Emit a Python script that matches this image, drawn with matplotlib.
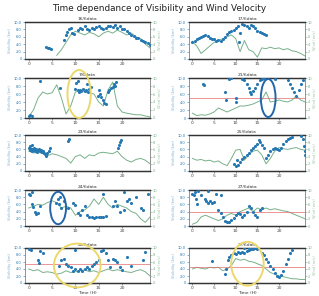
import matplotlib
matplotlib.use("Agg")
import matplotlib.pyplot as plt
from matplotlib.patches import Ellipse

nan = float("nan")

# hours of the day for the wind readings
hours = [0, 1, 2, 3, 4, 5, 6, 7, 8, 9, 10, 11, 12, 13, 14, 15, 16, 17, 18, 19,
         20, 21, 22, 23, 24, 25, 26]

titles = ["16/6data", "17/6data", "7/6data", "21/6data", "23/6data",
          "25/6data", "24/6data", "27/6data", "26/6data", "27/6data"]

# wind velocity, one value per hour
wind1 = [nan, nan, nan, nan, nan, nan, 1.0, 2.5, 4.5, 6.5, 7.5, 7.0, 6.5, 7.2, 6.8, 6.0,
         7.0, 7.5, 7.0, 7.8, 7.2, 6.5, 7.0, 6.0, 5.5, 4.0, 3.0]
wind2 = [4.8, 3.5, 1.5, 2.5, 3.5, 4.5, 5.0, 5.5, 6.0, 6.5, 5.5, 2.0, 5.0, 2.5, 2.0, 0.5,
         3.0, 2.8, 3.2, 2.8, 3.0, 2.5, 2.8, 2.2, 2.0, 1.5, 0.8]
wind3 = [0.3, 2.0, 5.0, 6.5, 6.0, 6.3, 8.3, 5.0, 1.0, 3.0, 6.5, 6.8, 6.5, 6.3, 6.0, 4.0,
         3.0, 7.0, 9.0, 3.0, 1.5, 1.2, 1.0, 0.8, 0.8, 0.5, 0.3]
wind4 = [1.2, 0.6, 0.8, 0.7, 1.0, 1.5, 2.5, 2.0, 1.5, 2.0, 2.5, 3.0, 3.0, 3.2, 3.5, 4.0,
         4.5, 6.5, 4.0, 4.2, 4.5, 4.2, 4.0, 4.5, 5.5, 4.5, 4.0]
wind5 = [5.5, 5.0, 5.2, 4.8, 4.2, 4.8, 4.5, 4.0, 3.5, 2.2, 4.0, 4.5, 3.5, 4.5, 4.2, 5.0,
         5.2, 5.0, 4.8, 5.5, 4.0, 3.0, 2.5, 3.2, 3.5, 3.0, 2.0]
wind6 = [3.5, 3.0, 3.2, 2.8, 3.0, 2.5, 2.8, 2.0, 1.5, 3.5, 5.8, 6.0, 3.0, 4.5, 5.5, 5.8,
         4.5, 2.0, 3.5, 5.5, 6.5, 6.2, 6.0, 6.3, 6.5, 6.0, 5.8]
wind7 = [5.0, 5.5, 6.0, 5.8, 6.5, 7.0, 6.5, 5.0, 5.5, 5.0, 3.0, 4.0, 4.5, 5.5, 7.5, 6.0,
         8.0, 6.0, 5.0, 6.0, 5.5, 5.0, 4.0, 3.5, 2.0, 1.0, 2.5]
wind8 = [0.5, 1.0, 2.5, 3.0, 2.5, 2.0, 1.5, 2.0, 3.0, 3.5, 3.0, 4.0, 4.5, 5.0, 4.0, 5.0,
         4.5, 5.0, 4.5, 4.8, 4.5, 4.2, 4.0, 3.5, 3.0, 2.5, 2.0]
wind9 = [4.0, 3.5, 3.8, 3.0, 3.2, 3.0, 2.5, 2.8, 3.5, 3.0, 3.2, 3.5, 3.8, 3.2, 3.5, 3.0,
         3.5, 4.0, 3.5, 3.8, 3.5, 3.2, 3.0, 3.5, 3.8, 3.2, 2.0]
wind10 = [4.0, 4.5, 4.2, 4.0, 4.5, 4.3, 4.5, 3.5, 4.0, 5.0, 7.0, 6.5, 6.8, 6.2, 6.0, 5.5,
          5.0, 4.0, 3.0, 2.5, 2.0, 1.8, 1.5, 1.2, 1.2, 1.0, 1.0]

# visibility readings as (hour, value)
vis1 = [(3.8, 3.3), (4.1, 3.1), (4.4, 3.0), (4.7, 2.8), (7.6, 5.2), (8.0, 6.4), (8.3, 7.2),
        (8.7, 8.0), (9.0, 8.5), (9.3, 7.0), (9.6, 6.8), (10.5, 7.8), (11, 8.4), (11.5, 8.1),
        (12, 8.8), (12.5, 8.2), (13, 7.9), (13.5, 8.3), (14, 8.0), (14.5, 8.6), (15, 8.9),
        (15.5, 8.3), (16, 8.0), (16.5, 8.5), (17, 8.8), (17.5, 9.0), (18, 8.6), (18.5, 9.1),
        (19, 8.4), (19.5, 8.8), (20, 8.2), (20.5, 8.0), (21, 7.6), (21.5, 7.0), (22, 6.6),
        (22.5, 6.2), (23, 5.8), (23.5, 5.6), (24, 5.2), (24.5, 5.0), (25, 4.6), (25.5, 4.2),
        (26, 3.8)]
vis2 = [(0, 4.5), (0.5, 5.0), (1, 5.5), (1.5, 5.8), (2, 6.0), (2.5, 6.3), (3, 6.5), (3.5, 6.2),
        (4, 5.8), (4.5, 5.5), (5, 5.3), (5.5, 5.0), (6, 5.2), (6.5, 5.0), (7, 5.4), (7.5, 6.0),
        (8, 6.8), (8.5, 7.2), (9, 7.5), (9.5, 7.8), (10, 8.3), (10.5, 8.8), (11, 7.0),
        (11.5, 9.5), (12, 9.2), (12.5, 8.8), (13, 8.5), (13.5, 9.3), (14, 9.0), (14.5, 8.5),
        (15, 7.5), (15.5, 7.2), (16, 7.0), (16.5, 6.8), (17, 6.5), (10.8, 4.5)]
vis3 = [(0, 0.5), (0.3, 0.8), (0.6, 0.4), (2.5, 9.2), (6.8, 7.5), (10, 7.2), (10.2, 8.8),
        (10.5, 7.0), (10.8, 6.5), (11, 7.0), (11.3, 6.8), (11.6, 7.2), (12, 6.8), (12.3, 7.0),
        (12.6, 6.6), (13, 7.2), (13.3, 7.8), (10.5, 9.2), (12.5, 8.4), (15, 7.0), (15.3, 6.0),
        (15.6, 5.2), (15.9, 4.5), (16.2, 3.8), (16.5, 3.5), (17, 6.5), (17.3, 7.0), (17.6, 7.5),
        (18, 7.8), (18.3, 8.5), (18.6, 8.0), (18.8, 9.0), (14.8, 5.5)]
vis4 = [(2.5, 8.5), (2.6, 8.2), (7.5, 6.5), (7.8, 4.5), (10, 5.0), (10, 4.0), (11.5, 9.8),
        (12, 9.5), (12.5, 8.5), (13, 7.5), (13.3, 6.5), (13.6, 6.0), (14, 6.8), (14.5, 7.5),
        (15, 8.5), (15.5, 9.5), (16, 9.8), (16.5, 10.0), (19, 9.7), (22, 9.6), (22.5, 8.5),
        (23, 7.5), (23.5, 6.5), (24, 5.6), (24.5, 7.0), (25, 8.5), (25.5, 9.5), (8.5, 9.8),
        (9, 9.9)]
vis5 = [(0, 6.5), (0.2, 5.8), (0.4, 6.2), (0.6, 5.5), (0.8, 6.0), (1, 5.8), (1.2, 6.3),
        (1.4, 5.6), (1.6, 6.0), (1.8, 5.4), (2, 5.8), (2.2, 6.1), (2.4, 5.5), (2.6, 5.9),
        (2.8, 5.2), (3, 5.6), (3.2, 5.0), (3.4, 4.6), (3.6, 4.2), (3.8, 4.5), (4.0, 5.0),
        (4.3, 5.6), (4.6, 6.3), (0.3, 7.0), (0.7, 7.2), (8.5, 8.3), (8.6, 8.8), (19.2, 6.5),
        (19.4, 7.2), (19.6, 8.0), (19.8, 8.6)]
vis6 = [(9.5, 2.0), (10, 1.5), (10.5, 1.8), (11, 2.5), (11.5, 3.2), (12, 3.8), (12.5, 4.5),
        (13, 5.0), (13.5, 5.8), (14, 6.5), (14.5, 7.0), (15, 7.5), (15.3, 8.5), (15.6, 8.0),
        (16, 7.2), (16.5, 6.5), (17, 3.5), (17.5, 4.5), (18, 5.5), (18.5, 6.0), (19, 6.5),
        (19.5, 6.2), (20, 5.8), (20.5, 6.5), (21, 7.5), (21.5, 8.2), (22, 8.8), (22.5, 9.2),
        (23, 9.5), (25, 9.8), (25.5, 9.0), (25.8, 7.0), (26, 5.5), (26, 4.5), (10.2, 3.0)]
vis7 = [(0, 9.0), (0.3, 8.5), (0.6, 6.0), (1, 5.2), (1.3, 4.0), (1.6, 3.2), (2, 3.5),
        (2.5, 5.5), (5.8, 6.5), (6.2, 7.5), (6.5, 6.0), (6.8, 8.0), (7, 5.0), (7.5, 7.0),
        (8.5, 5.0), (9.5, 6.5), (10, 5.8), (10.5, 3.5), (11, 3.0), (11.5, 4.5), (12, 5.5),
        (12.5, 3.0), (13, 2.5), (13.5, 2.5), (14, 2.3), (14.5, 2.5), (15, 2.4), (15.5, 2.6),
        (16, 2.5), (16.5, 2.8), (16, 9.0), (18, 5.5), (18.5, 7.0), (19, 5.5), (19.5, 4.0),
        (20.5, 4.5), (21, 7.0), (21.5, 7.5), (22, 6.5), (23, 8.0), (24, 5.0), (24.5, 4.5),
        (25.5, 9.0), (20.5, 9.5), (0.8, 9.5)]
vis8 = [(0, 9.0), (0.3, 8.5), (0.5, 9.5), (0.8, 7.5), (1, 6.0), (1.2, 9.8), (2, 8.5),
        (3, 7.5), (3.2, 7.0), (3.5, 6.5), (4, 7.0), (4.5, 6.5), (5, 6.8), (6, 4.5), (6.5, 3.5),
        (7, 2.5), (7.5, 1.5), (8, 1.0), (8.5, 1.2), (9, 1.8), (9.5, 2.2), (10, 3.0), (10.5, 3.5),
        (11, 3.2), (11.5, 2.5), (12, 3.0), (12.5, 4.0), (13, 5.5), (13.5, 5.0), (14, 4.0),
        (14.5, 3.0), (15, 2.5), (15.5, 4.5), (16, 5.0), (3.5, 9.8), (5.5, 9.0), (6.5, 8.5)]
vis9 = [(0, 9.8), (0.5, 9.5), (2, 6.5), (2.3, 5.8), (2.5, 9.2), (3, 8.5), (6.5, 5.0),
        (7, 6.5), (7.5, 7.0), (8, 5.5), (8.5, 5.0), (9, 4.5), (9.5, 3.5), (10, 4.0), (10.5, 3.5),
        (11, 4.0), (11.5, 3.5), (12, 4.0), (12.5, 4.5), (13, 4.0), (13.5, 4.8), (14, 5.5),
        (14.5, 6.0), (15, 6.5), (15.5, 9.2), (16, 9.5), (16.5, 8.5), (17, 6.5), (17.5, 4.5),
        (18, 7.0), (18.5, 6.5), (19, 6.0), (19.5, 4.5), (20, 3.8), (21, 7.5), (22, 5.0),
        (24.5, 6.5), (25, 9.0), (10, 9.5)]
vis10 = [(4.5, 6.2), (7.5, 2.5), (7.8, 4.0), (8.2, 6.5), (8.5, 7.5), (9, 8.0), (9.5, 8.5),
         (10, 8.2), (10.5, 8.8), (11, 8.5), (11.5, 9.0), (12, 8.6), (12.5, 9.2), (13, 9.5),
         (13.5, 9.8), (14, 9.6), (14.5, 9.9), (15, 9.7), (16, 8.5), (16.5, 8.0), (17, 7.0),
         (17.5, 6.0), (18, 5.0), (18.5, 4.0), (19, 3.0), (19.5, 2.0), (20, 1.8), (20.5, 2.2),
         (21, 3.5), (21.5, 5.5), (22, 7.0), (22.5, 8.5), (23, 9.5), (13, 10.0), (12, 10.0)]

# threshold line (None where absent)
thresholds = [None, None, None, 5.1, None, None, None, 3.8, 5.3, 4.7]

# hand-drawn highlight rings: panel, centre x, centre y, width, height, colour
rings = [(2, 10.8, 6.0, 5.0, 12.0, "#ecd86a"),
         (3, 17.5, 5.0, 3.4, 9.5, "#2466a8"),
         (6, 6.3, 5.0, 3.4, 9.0, "#2466a8"),
         (8, 10.4, 5.0, 10.0, 12.5, "#ecd86a"),
         (9, 12.7, 5.5, 7.5, 12.5, "#ecd86a")]

winds = [wind1, wind2, wind3, wind4, wind5, wind6, wind7, wind8, wind9, wind10]
vis = [vis1, vis2, vis3, vis4, vis5, vis6, vis7, vis8, vis9, vis10]

W, H = 319, 296
fig = plt.figure(figsize=(W / 100, H / 100), dpi=100)
fig.text(0.5, 0.972, "Time dependance of Visibility and Wind Velocity",
         ha="center", va="center", fontsize=6.4, color="#222222")

rows = [(22, 59), (78, 118), (135, 171), (190, 226), (248, 283)]
cols = [(25, 150), (189, 305)]

blue = "#2678b2"
green = "#79b08a"
axes = []
for i in range(10):
    r, c = divmod(i, 2)
    top, bot = rows[r]
    left, right = cols[c]
    ax = fig.add_axes([left / W, 1 - bot / H, (right - left) / W, (bot - top) / H])
    ax2 = ax.twinx()
    ax2.plot(hours, winds[i], color=green, lw=0.7)
    xs = [p[0] for p in vis[i]]
    ys = [p[1] for p in vis[i]]
    ax.scatter(xs, ys, s=5, color=blue, zorder=3, linewidths=0)
    ax.set_zorder(ax2.get_zorder() + 1)
    ax.patch.set_visible(False)
    if thresholds[i] is not None:
        ax.axhline(thresholds[i], color="#e36a6a", lw=0.5)
    for a in (ax, ax2):
        a.set_xlim(-0.8, 26)
        a.set_ylim(0, 10)
        for s in a.spines.values():
            s.set_color("#8a8a8a")
            s.set_linewidth(0.5)
        a.spines["top"].set_color("#333333")
        a.spines["top"].set_linewidth(0.9)
        a.spines["bottom"].set_color("#333333")
        a.spines["bottom"].set_linewidth(0.9)
    ax.set_xticks([0, 5, 10, 15, 20])
    ax.set_yticks([0, 2, 4, 6, 8, 10])
    ax2.set_yticks([0, 2, 4, 6, 8, 10])
    ax.set_yticklabels(["0", "2.0", "4.0", "6.0", "8.0", "10.0"])
    ax.tick_params(axis="x", labelsize=3.2, length=1.2, width=0.4, pad=1, colors="#444444")
    ax.tick_params(axis="y", labelsize=2.6, length=1.2, width=0.4, pad=1,
                   colors=blue, labelcolor=blue)
    ax2.tick_params(axis="y", labelsize=2.6, length=1.2, width=0.4, pad=1,
                    colors=green, labelcolor=green)
    ax.set_ylabel("Visibility (km)", fontsize=2.6, color="#7fb2d8", labelpad=1)
    ax2.set_ylabel("Wind (m/s)", fontsize=2.6, color="#9cc6a6", labelpad=0.5)
    ax.set_title(titles[i], fontsize=3.2, pad=1.5, color="#333333")
    if r == 4:
        ax.set_xlabel("Time (H)", fontsize=3.2, labelpad=1, color="#333333")
    axes.append(ax)

for idx, cx, cy, w, h, col in rings:
    e = Ellipse((cx, cy), w, h, fill=False, edgecolor=col, lw=1.4,
                clip_on=False, zorder=5)
    axes[idx].add_patch(e)

fig.savefig("out.png", dpi=100)
